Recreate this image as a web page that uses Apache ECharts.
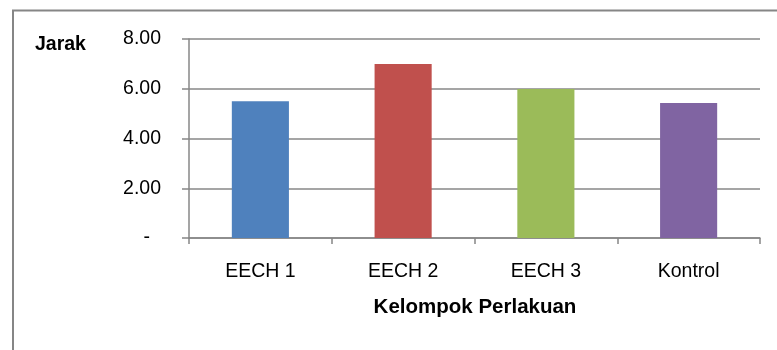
<!DOCTYPE html>
<html>
<head>
<meta charset="utf-8">
<script src="https://cdn.jsdelivr.net/npm/echarts@6/dist/echarts.min.js"></script>
<style>
html,body{margin:0;padding:0;background:#fff;}
#c{width:777px;height:350px;}
</style>
</head>
<body>
<div id="c"></div>
<script>
var categories = ['EECH 1', 'EECH 2', 'EECH 3', 'Kontrol'];
var values = [5.50, 6.99, 5.99, 5.43];
var barColors = ['#4F81BD', '#C0504D', '#9BBB59', '#8064A2'];
var yTicks = [0, 2, 4, 6, 8];
var yAxisTitle = 'Jarak';
var xAxisTitle = 'Kelompok Perlakuan';

var FONT = "'Liberation Sans', Arial, sans-serif";
var AXIS = '#878787';

var chart = echarts.init(document.getElementById('c'), null, {renderer: 'canvas'});
chart.setOption({
  animation: false,
  backgroundColor: '#ffffff',
  grid: {left: 189, right: 17, top: 39, bottom: 112, containLabel: false},
  xAxis: {
    type: 'category',
    data: categories,
    boundaryGap: true,
    axisLine: {show: true, lineStyle: {color: AXIS, width: 1.5}},
    axisTick: {show: true, alignWithLabel: false, length: 6, lineStyle: {color: AXIS, width: 1.5}},
    axisLabel: {margin: 24, color: '#000', fontSize: 19.5, fontFamily: FONT},
    splitLine: {show: false}
  },
  yAxis: {
    type: 'value',
    min: yTicks[0],
    max: yTicks[yTicks.length - 1],
    interval: yTicks[1] - yTicks[0],
    axisLine: {show: true, lineStyle: {color: AXIS, width: 1.5}},
    axisTick: {show: true, length: 7, lineStyle: {color: AXIS, width: 1.5}},
    axisLabel: {
      margin: 28, color: '#000', fontSize: 19.5, fontFamily: FONT,
      formatter: function (v) { return v === 0 ? '{d|-}' : v.toFixed(2); },
      rich: {d: {fontSize: 19.5, fontFamily: FONT, color: '#000', padding: [0, 11, 0, 0]}}
    },
    splitLine: {show: true, lineStyle: {color: AXIS, width: 1.5}}
  },
  graphic: [
    {type: 'rect', silent: true, shape: {x: 13, y: 10.5, width: 900, height: 500},
     style: {fill: 'none', stroke: '#868686', lineWidth: 2}},
    {type: 'text', left: 35, top: 35, style: {text: yAxisTitle, fontSize: 19.5, fontWeight: 'bold', fontFamily: FONT, fill: '#000'}},
    {type: 'text', x: 475, y: 297, style: {text: xAxisTitle, align: 'center', fontSize: 20.5, fontWeight: 'bold', fontFamily: FONT, fill: '#000'}}
  ],
  series: [{
    type: 'bar',
    barWidth: '40%',
    data: values.map(function (v, i) { return {value: v, itemStyle: {color: barColors[i]}}; })
  }]
});
</script>
</body>
</html>
